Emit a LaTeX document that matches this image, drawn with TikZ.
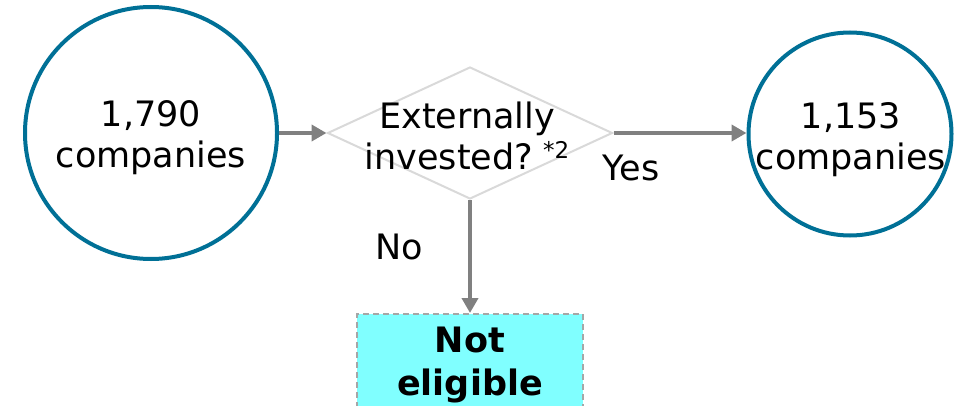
\documentclass[tikz,border=0pt]{standalone}
\usepackage{fontspec}
\setmainfont{DejaVu Sans}
\usetikzlibrary{arrows.meta,shapes.geometric}
\definecolor{ringblue}{RGB}{0,112,150}
\definecolor{flowgray}{RGB}{128,128,128}
\definecolor{diamondgray}{RGB}{217,217,217}
\definecolor{boxcyan}{RGB}{128,255,255}
\definecolor{boxedge}{RGB}{166,166,166}
\tikzset{
  ring/.style={circle, draw=ringblue, line width=4pt, inner sep=0pt},
  decision/.style={diamond, draw=diamondgray, line width=2pt, inner sep=0pt},
  outcome/.style={rectangle, draw=boxedge, dash pattern=on 6pt off 4pt, line width=2.2pt, fill=boxcyan, inner sep=0pt},
  label text/.style={font=\fontsize{35}{41}\selectfont, align=center, anchor=base, inner sep=0pt},
  flow/.style={draw=flowgray, line width=4.5pt, -{Triangle[length=15pt,width=16pt]}},
}
\begin{document}
\begin{tikzpicture}[x=1pt,y=-1pt]
  \useasboundingbox (0,0) rectangle (961,406);
  \clip (0,0) rectangle (961,406);

  % start and end populations
  \node[ring, minimum size=252pt] (start) at (151,133) {};
  \node[ring, minimum size=203pt] (result) at (850,134) {};
  \node[label text] (starttext) at (151,168) {1,790\\companies};
  \node[label text] (resulttext) at (851,170) {1,153\\companies};

  % decision
  \node[decision, minimum width=285pt, minimum height=132pt] (check) at (470,133) {};
  \node[label text] (checktext) at (467,170)
    {Externally\\invested?\hspace{10pt}{\fontsize{23}{23}\selectfont\raisebox{11pt}{*2}}};

  % rejected branch
  \node[outcome, minimum width=226pt, minimum height=110pt, anchor=north] (reject) at (470,313) {};
  \node[label text, font=\fontsize{35}{43}\selectfont\bfseries] (rejecttext) at (470,395) {Not\\eligible};

  % connectors
  \draw[flow] (start.east) -- (check.west);
  \draw[flow] (check.east) -- (check.east -| result.west);
  \draw[flow] (check.south) -- (reject.north);

  % branch labels
  \node[label text] (yes) at (631,181) {Yes};
  \node[label text] (no) at (399,259) {No};
\end{tikzpicture}
\end{document}
